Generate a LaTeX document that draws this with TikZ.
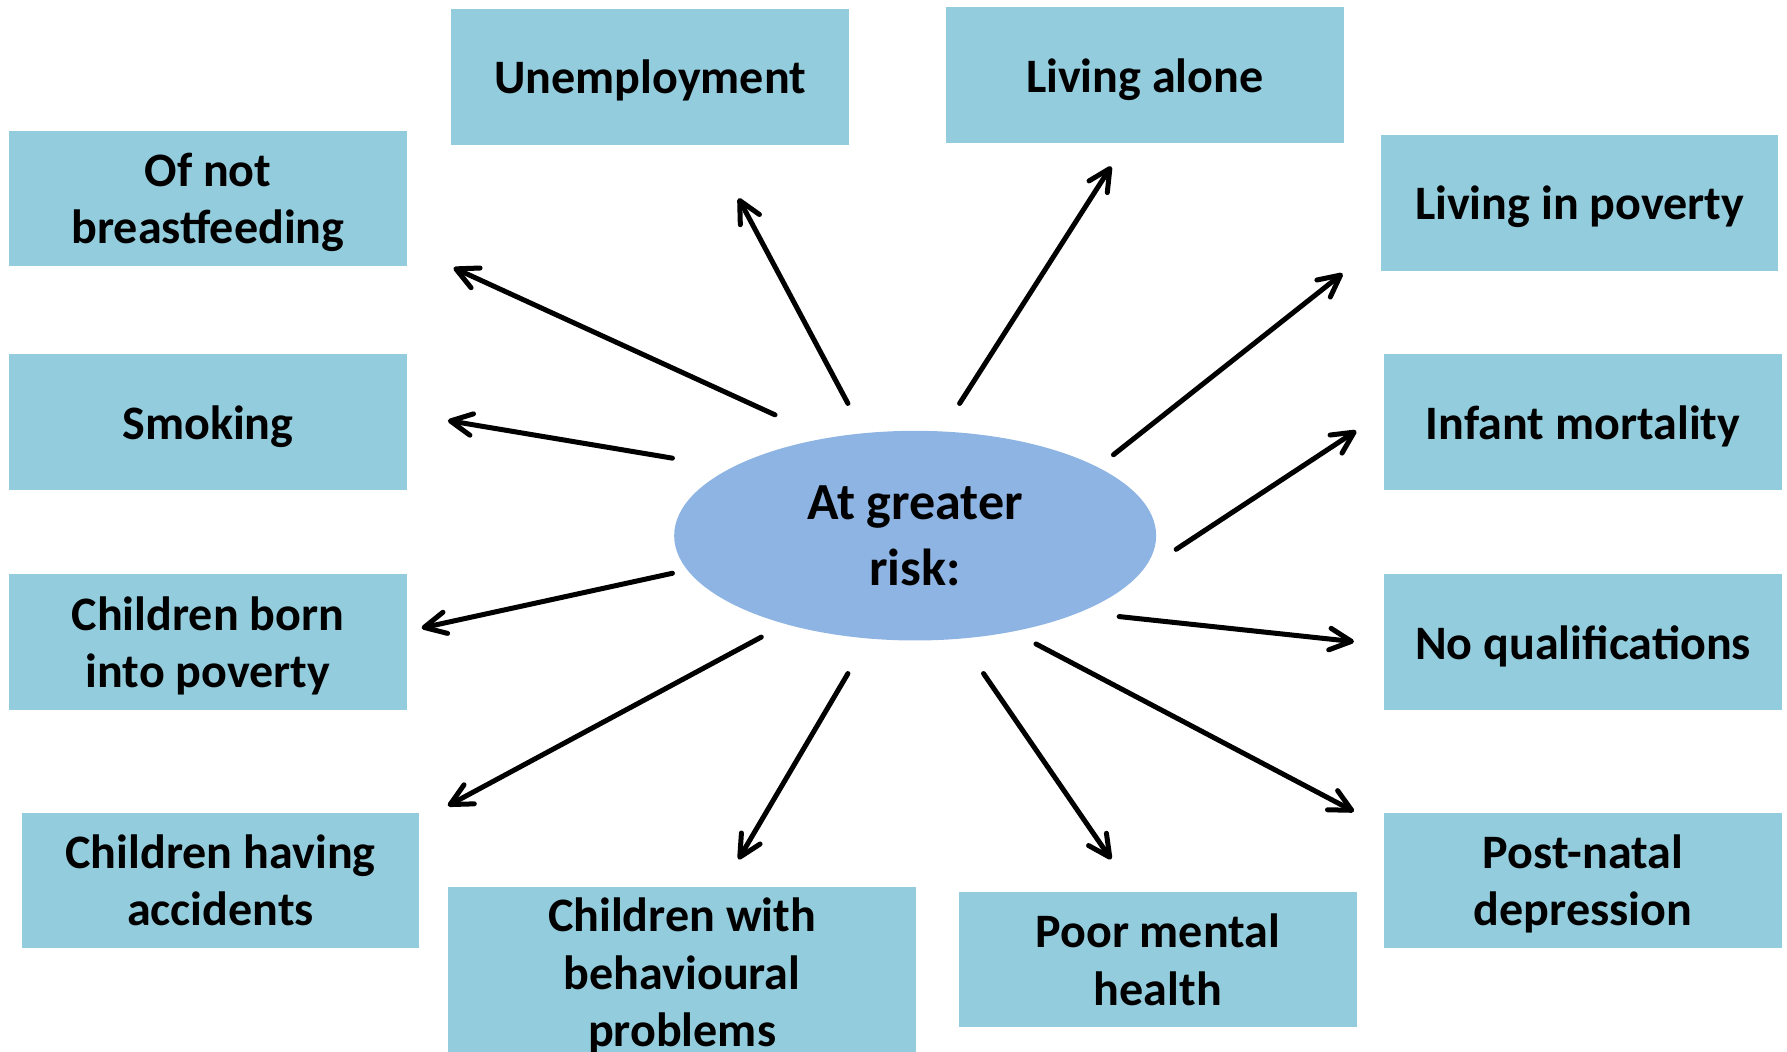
\documentclass[tikz,border=0pt]{standalone}
\usepackage{fontspec}
\setmainfont{Carlito}
\usetikzlibrary{shapes.geometric, arrows.meta}
\definecolor{boxblue}{RGB}{147,205,221}
\definecolor{ovalblue}{RGB}{141,180,226}

\begin{document}
\begin{tikzpicture}[x=0.02cm, y=-0.02cm]

\tikzset{riskbox/.style = {shape=rectangle, fill=boxblue, minimum width=6.98cm, minimum height=2.38cm, align=center, inner sep=0pt, text depth=0pt, font=\bfseries\fontsize{24}{28.5}\selectfont}}
\tikzset{oval/.style = {shape=ellipse, fill=ovalblue, minimum width=8.46cm, minimum height=3.68cm, inner sep=0pt, align=center, font=\bfseries\fontsize{26}{33}\selectfont}}
\tikzset{edge/.style = {-{Straight Barb[length=3.8mm,width=3.8mm,round]}, line width=2.5pt, line cap=round}}

\useasboundingbox (0,0) rectangle (1568,923);
\clip (0,0) rectangle (1568,923);

%centre
\node[oval] (0) at (803,470) {At greater\\risk:};

%boxes
\node[riskbox] (1) at (182.5,174) {Of not\\breastfeeding};
\node[riskbox] (2) at (570.5,67.5) {Unemployment};
\node[riskbox] (3) at (1004.5,66) {Living alone};
\node[riskbox] (4) at (1386,178) {Living in poverty};
\node[riskbox] (5) at (182.5,370.5) {Smoking};
\node[riskbox] (6) at (1389,370.5) {Infant mortality};
\node[riskbox] (7) at (182.5,563.5) {Children born\\into poverty};
\node[riskbox] (8) at (1389,563.5) {No qualifications};
\node[riskbox] (9) at (193.5,772.5) {Children having\\accidents};
\node[riskbox, minimum width=8.22cm, minimum height=3cm] (10) at (598.5,853) {Children with\\behavioural\\problems};
\node[riskbox] (11) at (1016,842) {Poor mental\\health};
\node[riskbox] (12) at (1389,772.5) {Post-natal\\depression};

%arrow ends
\coordinate (s1) at (680,364); \coordinate (t1) at (398,235);
\coordinate (s2) at (744,354); \coordinate (t2) at (648,174);
\coordinate (s3) at (842,354); \coordinate (t3) at (975,146);
\coordinate (s4) at (977,399); \coordinate (t4) at (1178,240);
\coordinate (s5) at (590,402); \coordinate (t5) at (393,369);
\coordinate (s6) at (1032,482); \coordinate (t6) at (1190,378);
\coordinate (s7) at (590,503); \coordinate (t7) at (370,551);
\coordinate (s8) at (982,541); \coordinate (t8) at (1188,563);
\coordinate (s9) at (668,559); \coordinate (t9) at (393,707);
\coordinate (s10) at (744,591); \coordinate (t10) at (648,754);
\coordinate (s11) at (863,591); \coordinate (t11) at (975,754);
\coordinate (s12) at (909,565); \coordinate (t12) at (1188,712);

%arrows
\draw [edge] (s1) -- (t1);
\draw [edge] (s2) -- (t2);
\draw [edge] (s3) -- (t3);
\draw [edge] (s4) -- (t4);
\draw [edge] (s5) -- (t5);
\draw [edge] (s6) -- (t6);
\draw [edge] (s7) -- (t7);
\draw [edge] (s8) -- (t8);
\draw [edge] (s9) -- (t9);
\draw [edge] (s10) -- (t10);
\draw [edge] (s11) -- (t11);
\draw [edge] (s12) -- (t12);

\end{tikzpicture}
\end{document}
